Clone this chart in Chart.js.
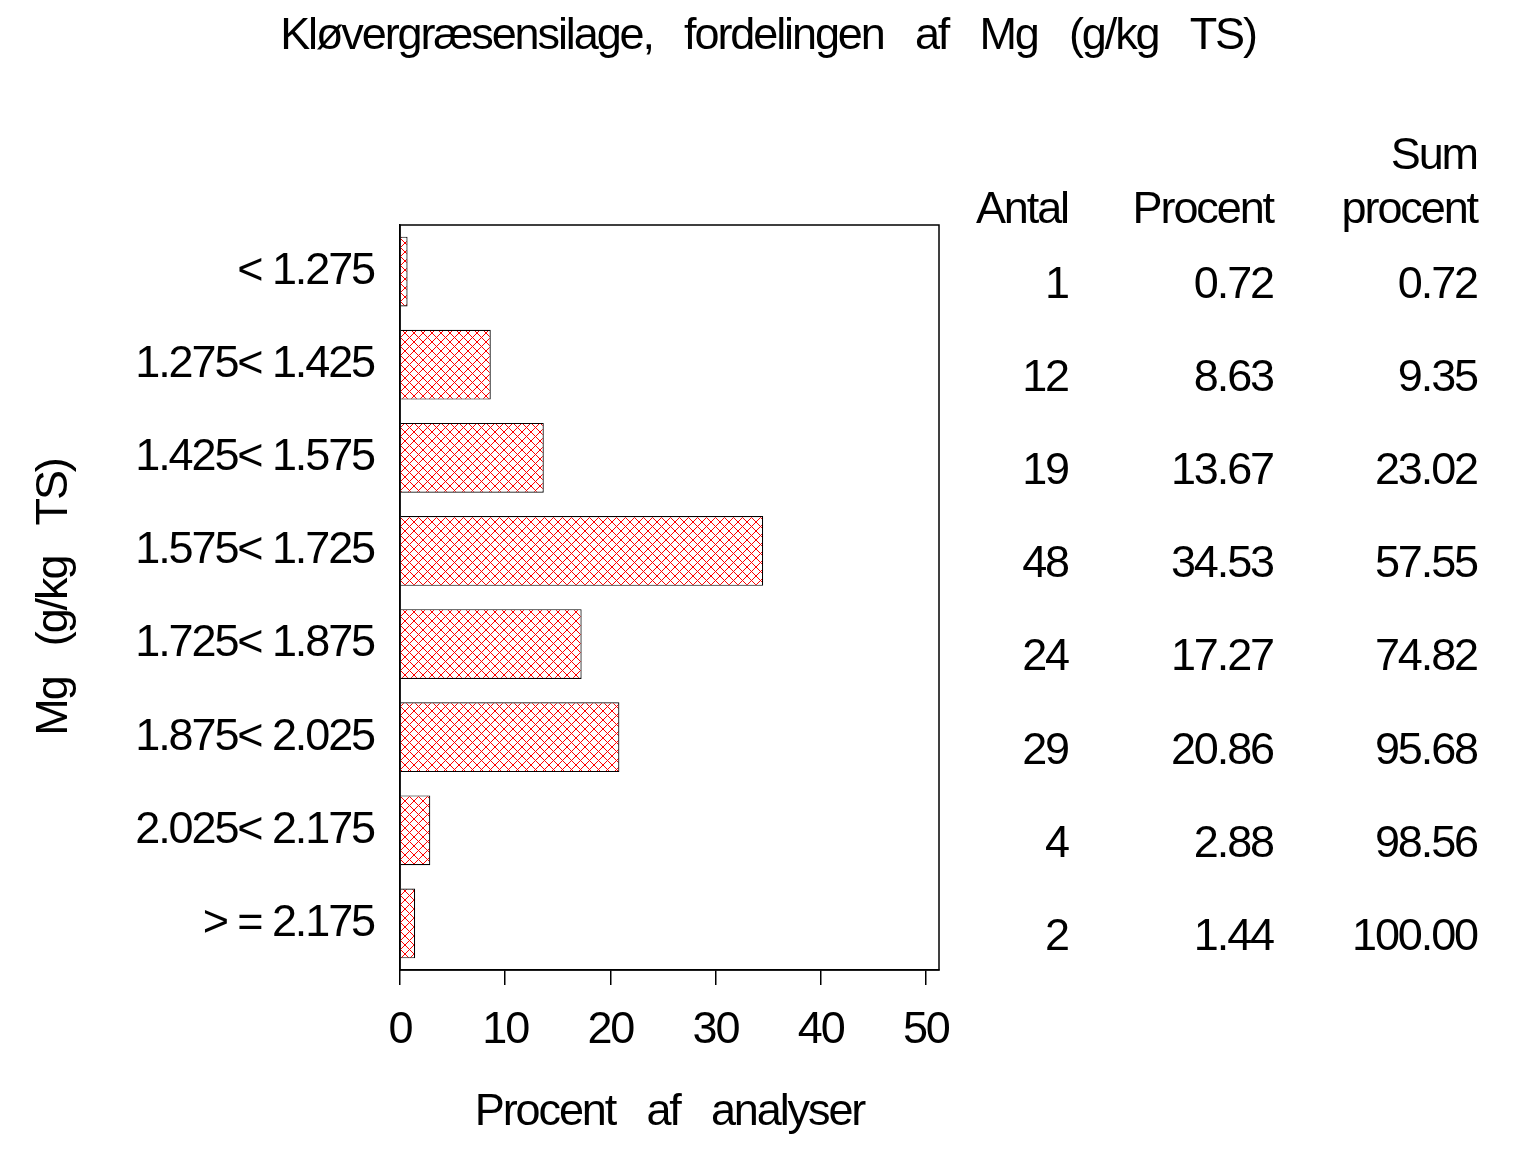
<!DOCTYPE html>
<html>
<head>
<meta charset="utf-8">
<script src="https://cdn.jsdelivr.net/npm/chart.js@4.4.1/dist/chart.umd.min.js"></script>
<style>
  body { margin: 0; background: #fff; }
  canvas { display: block; }
</style>
</head>
<body>
<canvas id="mgChart" width="1536" height="1152"></canvas>
<script>
// Mg classes and results
const categories = ['< 1.275', '1.275< 1.425', '1.425< 1.575', '1.575< 1.725', '1.725< 1.875', '1.875< 2.025', '2.025< 2.175', '> = 2.175'];
const counts = [1, 12, 19, 48, 24, 29, 4, 2];
const percent = [0.72, 8.63, 13.67, 34.53, 17.27, 20.86, 2.88, 1.44];
const cumPercent = [0.72, 9.35, 23.02, 57.55, 74.82, 95.68, 98.56, 100.00];
const xTicks = [0, 10, 20, 30, 40, 50];

const FONT = '"Liberation Sans", Arial, sans-serif';
const SIZE = 45;
const SPACING = '-2.1px';

// red cross hatch fill, drawn pixel by pixel so the lines stay crisp
function hatch() {
  const n = 9;
  const tile = document.createElement('canvas');
  tile.width = tile.height = n;
  const t = tile.getContext('2d');
  t.fillStyle = '#fff';
  t.fillRect(0, 0, n, n);
  t.fillStyle = '#ff0000';
  for (let i = 0; i < n; i++) {
    t.fillRect(i, i, 1, 1);
    t.fillRect(n - 1 - i, i, 1, 1);
  }
  return document.getElementById('mgChart').getContext('2d').createPattern(tile, 'repeat');
}

// tight letters like the original output
const tightText = {
  id: 'tightText',
  beforeDraw(chart) {
    chart.ctx.letterSpacing = SPACING;
  }
};

// title, frame round the plot and the table on the right
const sideTable = {
  id: 'sideTable',
  afterDraw(chart) {
    const { ctx, chartArea: a, scales: { y } } = chart;
    ctx.save();
    ctx.strokeStyle = '#000';
    ctx.lineWidth = 1.5;
    ctx.strokeRect(a.left, a.top, a.right - a.left, a.bottom - a.top);

    ctx.letterSpacing = SPACING;
    ctx.font = SIZE + 'px ' + FONT;
    ctx.fillStyle = '#000';
    ctx.textBaseline = 'middle';
    ctx.textAlign = 'center';
    ctx.fillText('Kløvergræsensilage,   fordelingen   af   Mg   (g/kg   TS)', 768, 37);

    ctx.textAlign = 'right';
    const cols = [1068, 1273, 1477];
    ctx.fillText('Antal', cols[0], 211);
    ctx.fillText('Procent', cols[1], 211);
    ctx.fillText('Sum', cols[2], 157);
    ctx.fillText('procent', cols[2], 211);
    categories.forEach((c, i) => {
      const py = y.getPixelForValue(i) + 14;
      ctx.fillText(String(counts[i]), cols[0], py);
      ctx.fillText(percent[i].toFixed(2), cols[1], py);
      ctx.fillText(cumPercent[i].toFixed(2), cols[2], py);
    });
    ctx.restore();
  }
};

new Chart(document.getElementById('mgChart'), {
  type: 'bar',
  data: {
    labels: categories,
    datasets: [{
      label: 'Procent',
      data: percent,
      backgroundColor: hatch(),
      borderColor: '#000',
      borderWidth: 1.2,
      categoryPercentage: 1,
      barPercentage: 0.75
    }]
  },
  options: {
    indexAxis: 'y',
    responsive: false,
    animation: false,
    layout: { padding: { left: 0, right: 597, top: 225, bottom: 0 } },
    plugins: {
      legend: { display: false },
      tooltip: { enabled: false },
      title: { display: false }
    },
    scales: {
      x: {
        min: 0,
        max: 51.25,
        afterBuildTicks: s => { s.ticks = xTicks.map(v => ({ value: v })); },
        afterFit: s => { s.height = 1152 - 970; },
        grid: { drawOnChartArea: false, drawTicks: true, tickLength: 15, color: '#000', lineWidth: 1.5 },
        border: { display: true, color: '#000', width: 1.5 },
        ticks: { color: '#000', padding: 19, font: { family: FONT, size: SIZE } },
        title: {
          display: true,
          text: 'Procent   af   analyser',
          color: '#000',
          font: { family: FONT, size: SIZE },
          padding: { top: 0, bottom: 12 }
        }
      },
      y: {
        afterFit: s => { s.width = 400; },
        grid: { display: false },
        border: { display: true, color: '#000', width: 1.5 },
        ticks: { color: '#000', padding: 18, font: { family: FONT, size: SIZE } },
        title: {
          display: true,
          text: 'Mg   (g/kg   TS)',
          color: '#000',
          font: { family: FONT, size: SIZE },
          padding: { top: 28, bottom: 0 }
        }
      }
    }
  },
  plugins: [tightText, sideTable]
});
</script>
</body>
</html>
